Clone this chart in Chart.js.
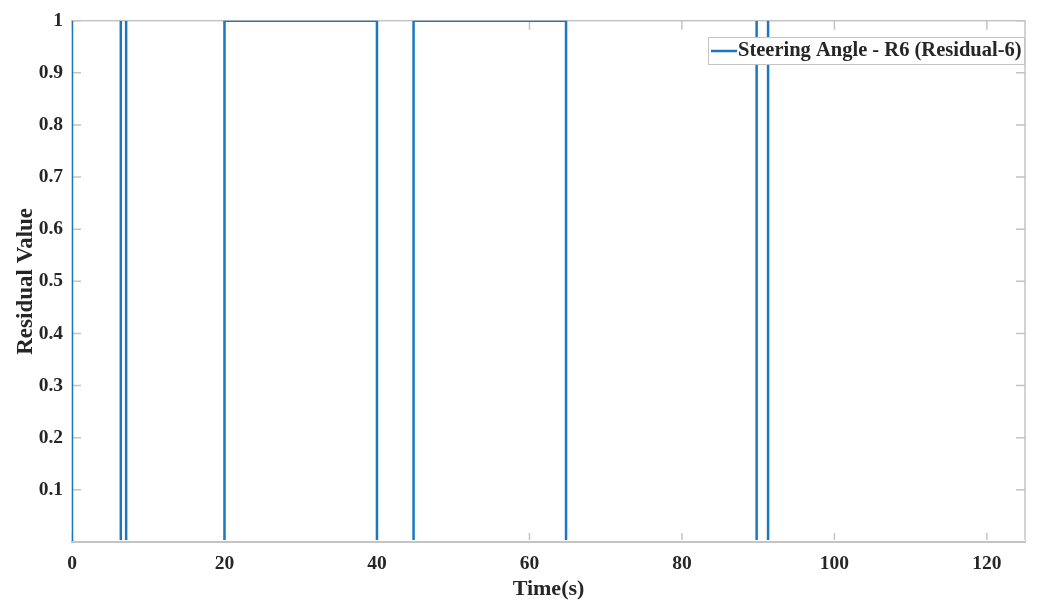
<!DOCTYPE html>
<html>
<head>
<meta charset="utf-8">
<script src="https://cdn.jsdelivr.net/npm/chart.js@4.4.0/dist/chart.umd.min.js"></script>
<style>
  html, body { margin: 0; padding: 0; background: #fff; }
  #wrap { width: 1038px; height: 606px; }
</style>
</head>
<body>
<div id="wrap"><canvas id="residualChart" width="1038" height="606"></canvas></div>
<script>
// step signal vertices (time in s, residual 0/1)
const timeValues = [0, 0, 6.4, 6.4, 6.4, 7.1, 7.1, 7.1, 20, 20, 40, 40, 44.8, 44.8, 64.8, 64.8, 89.8, 89.8, 89.8, 91.3, 91.3, 91.3, 125];
const residualValues = [1, 0, 0, 1, 0, 0, 1, 0, 0, 1, 1, 0, 0, 1, 1, 0, 0, 1, 0, 0, 1, 0, 0];
const xTicks = [0, 20, 40, 60, 80, 100, 120];
const yTicks = [0.1, 0.2, 0.3, 0.4, 0.5, 0.6, 0.7, 0.8, 0.9, 1];
const seriesLabel = 'Steering Angle - R6 (Residual-6)';

const lineColor = '#1a78c2';
const axisColor = '#c4c4c4';
const textColor = '#262626';
const serif = '"Liberation Serif", "Times New Roman", serif';

const points = timeValues.map((t, i) => ({ x: t, y: residualValues[i] }));

// MATLAB-like box, inner ticks and legend
const boxPlugin = {
    id: 'matlabBox',
    beforeDatasetsDraw(chart) {
        const { ctx, chartArea: a, scales } = chart;
        ctx.save();
        ctx.strokeStyle = axisColor;
        ctx.lineWidth = 1.5;
        ctx.strokeRect(a.left, a.top, a.right - a.left, a.bottom - a.top);
        ctx.beginPath();
        xTicks.forEach(v => {
            const px = scales.x.getPixelForValue(v);
            ctx.moveTo(px, a.bottom); ctx.lineTo(px, a.bottom - 9);
            ctx.moveTo(px, a.top); ctx.lineTo(px, a.top + 9);
        });
        yTicks.forEach(v => {
            const py = scales.y.getPixelForValue(v);
            ctx.moveTo(a.left, py); ctx.lineTo(a.left + 9, py);
            ctx.moveTo(a.right, py); ctx.lineTo(a.right - 9, py);
        });
        ctx.stroke();
        ctx.restore();
    },
    afterDatasetsDraw(chart) {
        const { ctx, chartArea: a } = chart;
        ctx.save();
        // bottom edge sits on top of the zero level
        ctx.fillStyle = '#fff';
        ctx.fillRect(a.left + 2, a.bottom - 2, a.right - a.left - 2, 4);
        ctx.strokeStyle = axisColor;
        ctx.lineWidth = 2;
        ctx.beginPath();
        ctx.moveTo(a.left - 1, a.bottom);
        ctx.lineTo(a.right + 1, a.bottom);
        ctx.stroke();

        // legend
        const ds = chart.data.datasets[0];
        const bx = 708, by = 37, bw = 316, bh = 27;
        ctx.fillStyle = '#fff';
        ctx.fillRect(bx, by, bw, bh);
        ctx.strokeStyle = axisColor;
        ctx.lineWidth = 1;
        ctx.strokeRect(bx + 0.5, by + 0.5, bw, bh);
        ctx.strokeStyle = ds.borderColor;
        ctx.lineWidth = 2.5;
        ctx.beginPath();
        ctx.moveTo(bx + 3, by + 14);
        ctx.lineTo(bx + 29, by + 14);
        ctx.stroke();
        ctx.fillStyle = textColor;
        ctx.font = 'bold 20.5px ' + serif;
        ctx.textBaseline = 'middle';
        ctx.fillText(ds.label, bx + 30, by + 14);
        ctx.restore();
    }
};

new Chart(document.getElementById('residualChart'), {
    type: 'line',
    data: {
        datasets: [{
            label: seriesLabel,
            data: points,
            borderColor: lineColor,
            borderWidth: 2.5,
            pointRadius: 0,
            tension: 0,
            fill: false
        }]
    },
    options: {
        responsive: false,
        animation: false,
        parsing: false,
        layout: { padding: { top: 17, right: 13, left: 0, bottom: 0 } },
        plugins: {
            legend: { display: false },
            tooltip: { enabled: false }
        },
        scales: {
            x: {
                type: 'linear',
                min: 0,
                max: 125,
                afterFit(s) { s.height = 64; },
                grid: { display: false, drawTicks: false },
                border: { display: false },
                ticks: {
                    stepSize: 20,
                    includeBounds: false,
                    padding: 10,
                    color: textColor,
                    font: { family: serif, size: 19.5, weight: 'bold' },
                    maxRotation: 0
                },
                title: {
                    display: true,
                    text: 'Time(s)',
                    color: textColor,
                    font: { family: serif, size: 22, weight: 'bold' },
                    padding: { top: 0, bottom: 3 }
                }
            },
            y: {
                min: 0,
                max: 1,
                afterFit(s) { s.width = 72; },
                grid: { display: false, drawTicks: false },
                border: { display: false },
                ticks: {
                    stepSize: 0.1,
                    padding: 9,
                    color: textColor,
                    font: { family: serif, size: 19.5, weight: 'bold' },
                    callback: v => (v === 0 ? '' : String(Math.round(v * 10) / 10))
                },
                title: {
                    display: true,
                    text: 'Residual Value',
                    color: textColor,
                    font: { family: serif, size: 23, weight: 'bold' },
                    padding: { top: 12, bottom: 0 }
                }
            }
        }
    },
    plugins: [boxPlugin]
});
</script>
</body>
</html>
